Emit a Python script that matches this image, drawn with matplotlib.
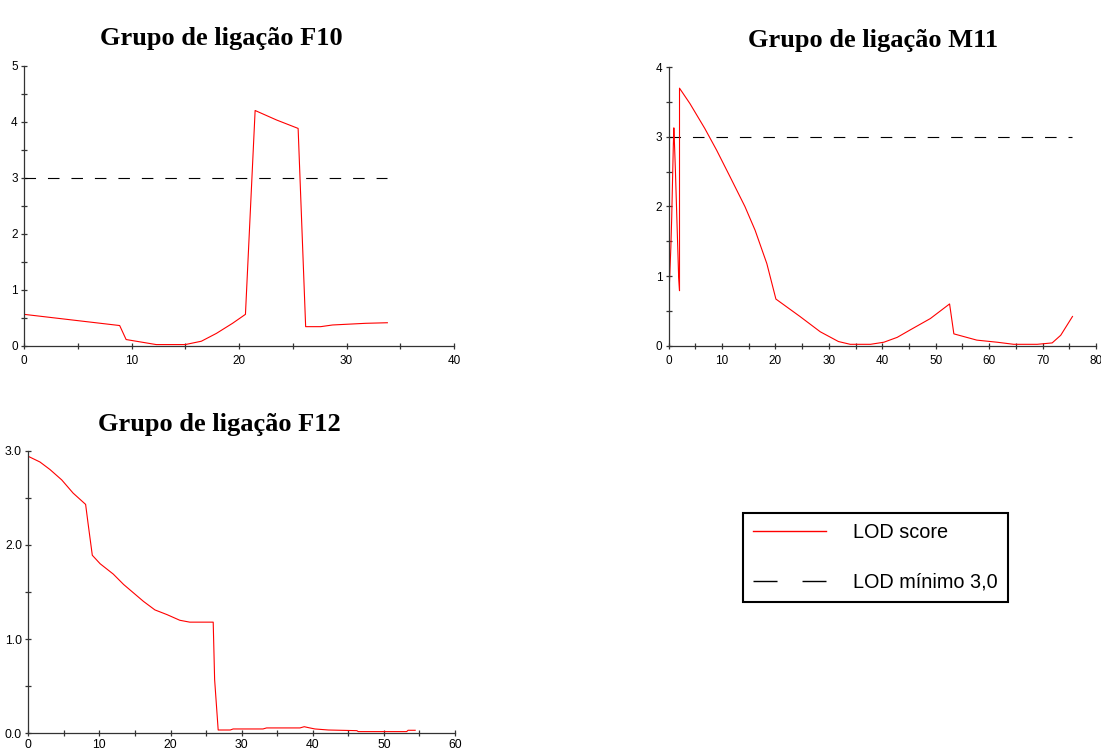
import matplotlib
matplotlib.use("Agg")
import matplotlib.pyplot as plt
from matplotlib.lines import Line2D
from matplotlib.ticker import MultipleLocator, FormatStrFormatter

# LOD profiles along each linkage group (cM vs LOD)
f10_pos = [0, 8.9, 9.5, 12.3, 15, 16.5, 17.9, 19.4, 20.6, 21.5, 23.5, 25.5,
           26.2, 27.6, 28.7, 31.8, 33.8]
f10_lod = [0.56, 0.36, 0.11, 0.02, 0.02, 0.08, 0.22, 0.40, 0.56, 4.2, 4.03,
           3.88, 0.34, 0.34, 0.37, 0.40, 0.41]

m11_pos = [0, 0.12, 0.44, 0.6, 0.9, 1.0, 1.1, 1.3, 1.56, 1.75, 1.9, 2.06,
           2.06, 4.0, 6.8, 9.0, 11.5, 14.3, 16.2, 18.4, 20.1, 24.6, 28.4,
           31.8, 34, 37.8, 40.3, 42.8, 45.3, 49, 52.6, 53.4, 57.7, 61.5,
           64.6, 69, 71.8, 73.4, 75.6]
m11_lod = [0.5, 0.79, 1.41, 1.84, 2.87, 3.13, 2.94, 2.5, 1.84, 1.36, 0.98,
           0.79, 3.70, 3.48, 3.12, 2.81, 2.43, 2.0, 1.66, 1.18, 0.67, 0.42,
           0.20, 0.06, 0.02, 0.02, 0.05, 0.12, 0.23, 0.39, 0.60, 0.17, 0.08,
           0.05, 0.02, 0.02, 0.04, 0.15, 0.42]

f12_pos = [0, 1.64, 3.05, 4.7, 6.3, 8.06, 8.4, 9.0, 10.1, 11.95, 13.4, 14.8,
           16.2, 17.8, 19.5, 21.3, 22.7, 26.0, 26.2, 26.7, 28.4, 28.8, 33.0,
           33.5, 38.2, 38.8, 39.4, 40.3, 42.2, 46.2, 46.4, 53.2, 53.4, 54.4]
f12_lod = [2.94, 2.88, 2.80, 2.69, 2.55, 2.43, 2.23, 1.89, 1.80, 1.69, 1.58,
           1.49, 1.40, 1.31, 1.26, 1.20, 1.18, 1.18, 0.57, 0.035, 0.035,
           0.046, 0.046, 0.057, 0.057, 0.07, 0.06, 0.046, 0.035, 0.028,
           0.018, 0.018, 0.032, 0.032]

lod_threshold = 3.0
titles = ["Grupo de ligação F10", "Grupo de ligação M11", "Grupo de ligação F12"]
legend_labels = ["LOD score", "LOD mínimo 3,0"]

plt.rcParams["lines.scale_dashes"] = False
W, H = 1101, 752
fig = plt.figure(figsize=(W / 100, H / 100), dpi=100)
fig.patch.set_facecolor("white")


def px_axes(x0, x1, ytop, ybot):
    return fig.add_axes([x0 / W, 1 - ybot / H, (x1 - x0) / W, (ybot - ytop) / H])


def style(ax, xmax, ymax, xmaj, ymaj, ymin, yfmt, fs, xpad):
    ax.set_xlim(0, xmax)
    ax.set_ylim(0, ymax)
    for s in ("top", "right"):
        ax.spines[s].set_visible(False)
    for s in ("left", "bottom"):
        ax.spines[s].set_color("#333333")
        ax.spines[s].set_linewidth(0.9)
    ax.xaxis.set_major_locator(MultipleLocator(xmaj))
    ax.xaxis.set_minor_locator(MultipleLocator(xmaj / 2))
    ax.yaxis.set_major_locator(MultipleLocator(ymaj))
    ax.yaxis.set_minor_locator(MultipleLocator(ymin))
    ax.yaxis.set_major_formatter(FormatStrFormatter(yfmt))
    ax.tick_params(which="both", direction="inout", length=5, width=0.9,
                   color="#333333", labelsize=fs, pad=2)
    ax.tick_params(axis="x", pad=xpad)
    for lab in ax.get_xticklabels() + ax.get_yticklabels():
        lab.set_fontfamily("Liberation Sans")
    ax.set_facecolor("none")


red = "#ff0000"
dash = (0, (8.3, 8.6))

# F10
ax1 = px_axes(24, 454, 65.7, 345.7)
style(ax1, 40, 5, 10, 1, 0.5, "%d", 8.5, 4)
ax1.plot([0, f10_pos[-1]], [lod_threshold] * 2, color="black", lw=0.8, linestyle=dash)
ax1.plot(f10_pos, f10_lod, color=red, lw=0.8)

# M11
ax2 = px_axes(668.5, 1096, 67.3, 345.7)
style(ax2, 80, 4, 10, 1, 0.5, "%d", 8.5, 4)
ax2.plot([0, m11_pos[-1]], [lod_threshold] * 2, color="black", lw=0.8, linestyle=dash)
ax2.plot(m11_pos, m11_lod, color=red, lw=0.8)

# F12
ax3 = px_axes(28.3, 455, 450.7, 733.3)
style(ax3, 60, 3, 10, 1, 0.5, "%.1f", 8.8, 1.5)
ax3.plot(f12_pos, f12_lod, color=red, lw=0.8)

# Titles
title_kw = dict(fontfamily="Liberation Serif", fontweight="bold", fontsize=19,
                ha="center", va="baseline")
fig.text(221 / W, 1 - 45 / H, titles[0], **title_kw)
fig.text(873 / W, 1 - 47 / H, titles[1], **title_kw)
fig.text(219 / W, 1 - 431 / H, titles[2], **title_kw)

# Shared legend
handles = [Line2D([], [], color=red, lw=1.0),
           Line2D([], [], color="black", lw=1.0, linestyle=(0, (17.3, 18.0)))]
leg = fig.legend(handles, legend_labels, loc="upper left",
                 bbox_to_anchor=(743 / W, 1 - 513 / H), borderaxespad=0,
                 prop={"family": "Liberation Sans", "size": 14.3},
                 handlelength=3.7, handletextpad=1.35, labelspacing=1.55,
                 borderpad=0.5, fancybox=False, framealpha=1)
leg.get_frame().set_edgecolor("black")
leg.get_frame().set_linewidth(1.5)

fig.savefig("out.png", dpi=100)
